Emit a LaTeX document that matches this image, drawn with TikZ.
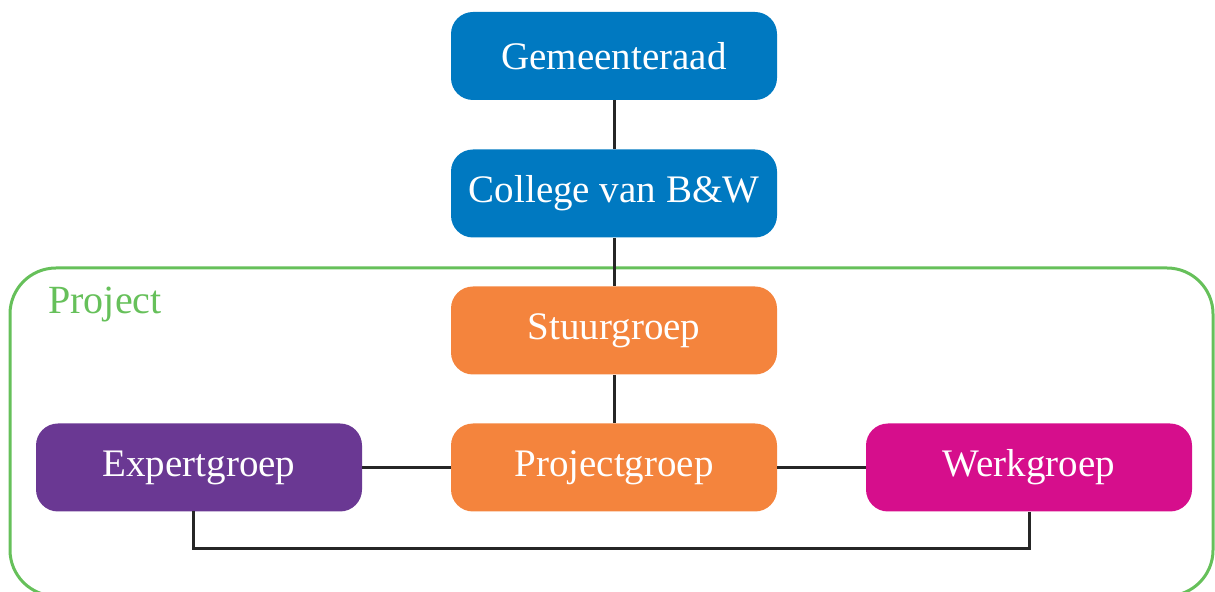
\documentclass[tikz,border=0pt]{standalone}
\usepackage{fontspec}
\setmainfont{Liberation Serif}
\definecolor{raadblue}{HTML}{0079C1}
\definecolor{projorange}{HTML}{F4843D}
\definecolor{expertpurple}{HTML}{6A3893}
\definecolor{werkmagenta}{HTML}{D60E8C}
\definecolor{framegreen}{HTML}{66C05A}
\begin{document}
\begin{tikzpicture}[x=0.5pt, y=-0.5pt,
		groupbox/.style={rounded corners=11pt, minimum width=163pt, minimum height=44pt,
			text=white, font=\fontsize{19.5}{23}\selectfont, inner sep=0pt},
		link/.style={line width=1.5pt, color=black!85}]
			\useasboundingbox (0,0) rectangle (1215,592);
			% project frame
			\draw [color=framegreen, line width=1.5pt, rounded corners=23pt] (10,268) rectangle (1213,596);
			\node [anchor=base west, inner sep=0pt, text=framegreen, font=\fontsize{20}{24}\selectfont] (projlabel) at (48,314) {Project};
			% boxes
			\node [groupbox, fill=raadblue] (raad) at (614,56) {Gemeenteraad};
			\node [groupbox, fill=raadblue] (college) at (614,193.5) {College van B\&W};
			\node [groupbox, fill=projorange] (stuur) at (614,330.5) {Stuurgroep};
			\node [groupbox, fill=projorange] (projgroep) at (614,467.5) {Projectgroep};
			\node [groupbox, fill=expertpurple] (expert) at (199,467.5) {Expertgroep};
			\node [groupbox, fill=werkmagenta] (werk) at (1029,467.5) {Werkgroep};
			% connectors
			\draw [link] (raad) -- (college);
			\draw [link] (college) -- (stuur);
			\draw [link] (stuur) -- (projgroep);
			\draw [link] (expert) -- (projgroep);
			\draw [link] (projgroep) -- (werk);
			\coordinate (expfoot) at (193,511);
			\coordinate (bottomleft) at (193,549);
			\draw [link] (expfoot) -- (bottomleft) -| (werk.south);
		\end{tikzpicture}
\end{document}
